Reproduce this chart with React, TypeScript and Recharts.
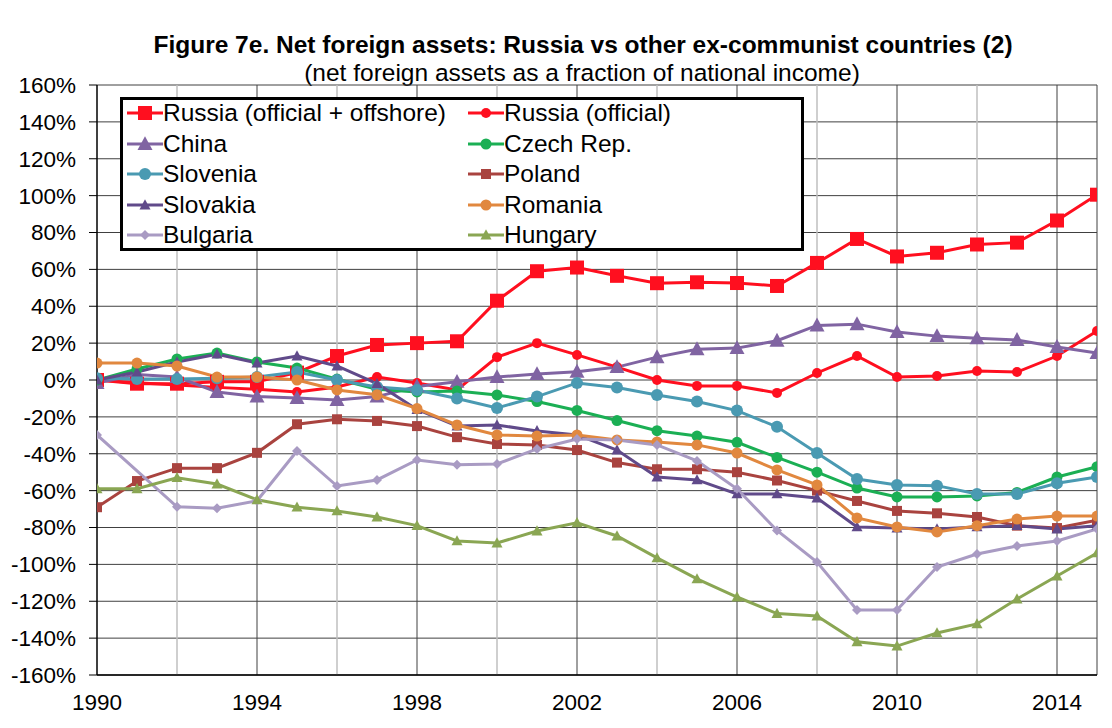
import { LineChart, Line, XAxis, YAxis, CartesianGrid, ReferenceLine, Legend } from 'recharts';

// years on the x axis
const years = [
  1990, 1991, 1992, 1993, 1994, 1995, 1996, 1997, 1998, 1999, 2000, 2001, 2002,
  2003, 2004, 2005, 2006, 2007, 2008, 2009, 2010, 2011, 2012, 2013, 2014, 2015,
];

// net foreign assets, % of national income
const russiaOffshore = [0, -2, -2, -1, -1, 4, 13, 19, 20, 21, 43, 59, 61, 56.5, 52.5, 53, 52.6, 51, 63.5, 76.5, 67, 69, 73.5, 74.5, 86.5, 100.5];
const russiaOfficial = [0, -1.5, -2.7, -4, -5, -6.5, -3.8, 1.6, -1.6, -5.4, 12.4, 20, 13.6, 7, 0, -3.2, -3.2, -7, 3.8, 13, 1.6, 2.2, 4.9, 4.3, 13, 26.6];
const china = [-1.6, 3, 1.6, -6.5, -9, -9.8, -10.8, -9, -3.5, -1, 1.6, 3.2, 4.5, 7, 12.4, 16.7, 17.3, 21.3, 29.6, 30.3, 26, 23.8, 22.6, 21.7, 17.9, 14.6];
const czech = [0, 6, 11.4, 14.6, 9.8, 6.5, 0.5, -5, -6.5, -6, -8.1, -11.7, -16.5, -22, -27.5, -30.4, -33.8, -42, -50, -58.6, -63.4, -63.4, -62.9, -61, -52.6, -47];
const slovenia = [1, 0.5, 0.5, 1, 1.6, 4.3, 0, -3.8, -5.4, -10, -15.2, -9, -1.6, -4.1, -8.1, -11.7, -16.6, -25.4, -39.6, -53.7, -56.9, -57.3, -61.8, -61.8, -56, -52.6];
const poland = [-69, -54.8, -47.8, -47.8, -39.5, -24, -21.3, -22.2, -25, -31, -34.7, -35.2, -38, -44.8, -48.4, -48.4, -50, -54.5, -60, -65.6, -71, -72.3, -74.3, -79, -80.3, -76];
const slovakia = [0, 4.3, 9.8, 14, 9.2, 13, 7.6, -2, -16, -25, -24.4, -27.6, -29.8, -38, -52.6, -54.2, -61.8, -61.8, -64, -79.7, -80.3, -80.8, -79.7, -79, -80.8, -79];
const romania = [9.2, 9.2, 7.6, 1.6, 1.6, 0, -5.4, -8, -15.5, -24.4, -29.8, -30.4, -29.8, -32.5, -33.6, -35.2, -39.6, -48.8, -56.9, -74.8, -79.7, -82.4, -79, -75.4, -73.8, -73.8];
const bulgaria = [-29.8, null, -68.8, -69.6, -65.5, -38.5, -57.5, -54.2, -43.4, -46, -45.5, -37.4, -32, -32.5, -35.2, -43.9, -59, -81.6, -98.7, -124.7, -124.7, -101.4, -94.4, -90, -87.3, -80.8];
const hungary = [-59, -59, -53, -56.4, -65, -69, -71, -74.3, -79, -87.3, -88.4, -81.9, -77.5, -84.6, -96.5, -107.9, -117.7, -126.7, -128, -142, -144.3, -137.2, -132.3, -118.8, -106.3, -93.8];

const xTicks = [1990, 1994, 1998, 2002, 2006, 2010, 2014];
const yTicks = [-160, -140, -120, -100, -80, -60, -40, -20, 0, 20, 40, 60, 80, 100, 120, 140, 160];
const lightYears = [1992, 1996, 2000, 2004, 2008, 2012];
const darkYears = [1994, 1998, 2002, 2006, 2010, 2014, 2015];

const data = years.map((year, i) => ({
  year,
  russiaOffshore: russiaOffshore[i],
  russiaOfficial: russiaOfficial[i],
  china: china[i],
  czech: czech[i],
  slovenia: slovenia[i],
  poland: poland[i],
  slovakia: slovakia[i],
  romania: romania[i],
  bulgaria: bulgaria[i],
  hungary: hungary[i],
}));

type Shape = 'square' | 'circle' | 'triangle' | 'diamond';

const series: { key: string; name: string; color: string; shape: Shape; size: number }[] = [
  { key: 'russiaOffshore', name: 'Russia (official + offshore)', color: '#FF0F1F', shape: 'square', size: 14 },
  { key: 'russiaOfficial', name: 'Russia (official)', color: '#FF0F1F', shape: 'circle', size: 10 },
  { key: 'china', name: 'China', color: '#8064A2', shape: 'triangle', size: 15 },
  { key: 'czech', name: 'Czech Rep.', color: '#1BAF54', shape: 'circle', size: 11 },
  { key: 'slovenia', name: 'Slovenia', color: '#4A9AB2', shape: 'circle', size: 12 },
  { key: 'poland', name: 'Poland', color: '#A9433F', shape: 'square', size: 10 },
  { key: 'slovakia', name: 'Slovakia', color: '#604A8A', shape: 'triangle', size: 11 },
  { key: 'romania', name: 'Romania', color: '#E1883F', shape: 'circle', size: 11 },
  { key: 'bulgaria', name: 'Bulgaria', color: '#A99BC3', shape: 'diamond', size: 10 },
  { key: 'hungary', name: 'Hungary', color: '#8AA653', shape: 'triangle', size: 11 },
];

const drawShape = (shape: Shape, size: number, color: string, cx: number, cy: number, key?: any) => {
  const h = size / 2;
  if (shape === 'square') return <rect key={key} x={cx - h} y={cy - h} width={size} height={size} fill={color} />;
  if (shape === 'circle') return <circle key={key} cx={cx} cy={cy} r={h} fill={color} />;
  if (shape === 'triangle')
    return <polygon key={key} points={`${cx},${cy - h * 1.05} ${cx - h},${cy + h * 0.8} ${cx + h},${cy + h * 0.8}`} fill={color} />;
  return <polygon key={key} points={`${cx},${cy - h} ${cx + h},${cy} ${cx},${cy + h} ${cx - h},${cy}`} fill={color} />;
};

const makeDot = (shape: Shape, size: number, color: string) => (props: any) => {
  const { cx, cy, index, value } = props;
  if (cx == null || cy == null || value == null) return <g key={index} />;
  return drawShape(shape, size, color, cx, cy, index);
};

const ChartLegend = () => (
  <div
    style={{
      width: 684,
      height: 154,
      border: '3px solid #000',
      boxSizing: 'border-box',
      background: '#fff',
      position: 'relative',
    }}
  >
    {series.map((s, i) => {
      const col = i % 2;
      const row = Math.floor(i / 2);
      return (
        <div
          key={s.key}
          style={{
            position: 'absolute',
            left: 4 + col * 341,
            top: row * 30.6 - 2,
            height: 30,
            display: 'flex',
            alignItems: 'center',
            whiteSpace: 'nowrap',
          }}
        >
          <svg width={36} height={30}>
            <line x1={0} y1={15} x2={36} y2={15} stroke={s.color} strokeWidth={3} />
            {drawShape(s.shape, s.size, s.color, 18, 15)}
          </svg>
          <span style={{ fontSize: 24.5, color: '#000', lineHeight: '30px' }}>{s.name}</span>
        </div>
      );
    })}
  </div>
);

export default function App() {
  return (
    <div
      style={{
        position: 'absolute',
        left: 0,
        top: 0,
        width: 1112,
        height: 728,
        background: '#fff',
        fontFamily: '"Liberation Sans", Arial, sans-serif',
      }}
    >
      <div style={{ position: 'absolute', left: 0, top: 31, width: 1166, textAlign: 'center', fontSize: 24.5, fontWeight: 'bold', lineHeight: '28px', color: '#000' }}>
        Figure 7e. Net foreign assets: Russia vs other ex-communist countries (2)
      </div>
      <div style={{ position: 'absolute', left: 0, top: 59, width: 1164, textAlign: 'center', fontSize: 24.5, lineHeight: '28px', color: '#000' }}>
        (net foreign assets as a fraction of national income)
      </div>
      <div style={{ position: 'absolute', left: 0, top: 0 }}>
        <LineChart width={1112} height={728} data={data} margin={{ top: 85, right: 15, bottom: 23, left: 7 }}>
          <CartesianGrid vertical={false} stroke="#404040" strokeWidth={1} />
          {lightYears.map((y) => (
            <ReferenceLine key={y} x={y} stroke="#BFBFBF" strokeWidth={1.5} />
          ))}
          {darkYears.map((y) => (
            <ReferenceLine key={y} x={y} stroke="#404040" strokeWidth={1} />
          ))}
          <XAxis
            dataKey="year"
            type="number"
            domain={[1990, 2015]}
            ticks={xTicks}
            allowDataOverflow
            height={30}
            axisLine={{ stroke: '#000', strokeWidth: 1.5 }}
            tickLine={false}
            tickSize={0}
            tickMargin={19}
            tick={{ fill: '#000', fontSize: 22.5 }}
          />
          <YAxis
            domain={[-160, 160]}
            ticks={yTicks}
            allowDataOverflow
            width={90}
            axisLine={{ stroke: '#000', strokeWidth: 1.5 }}
            tickLine={{ stroke: '#000' }}
            tickSize={8}
            tickMargin={13}
            tick={{ fill: '#000', fontSize: 22.5 }}
            tickFormatter={(v) => `${v}%`}
          />
          {series.map((s) => (
            <Line
              key={s.key}
              type="linear"
              dataKey={s.key}
              name={s.name}
              stroke={s.color}
              strokeWidth={3}
              dot={makeDot(s.shape, s.size, s.color)}
              activeDot={false}
              connectNulls
              isAnimationActive={false}
            />
          ))}
          <Legend
            layout="vertical"
            align="center"
            verticalAlign="middle"
            content={() => <ChartLegend />}
            wrapperStyle={{ left: 120, top: 97, width: 684, height: 154 }}
          />
        </LineChart>
      </div>
    </div>
  );
}
